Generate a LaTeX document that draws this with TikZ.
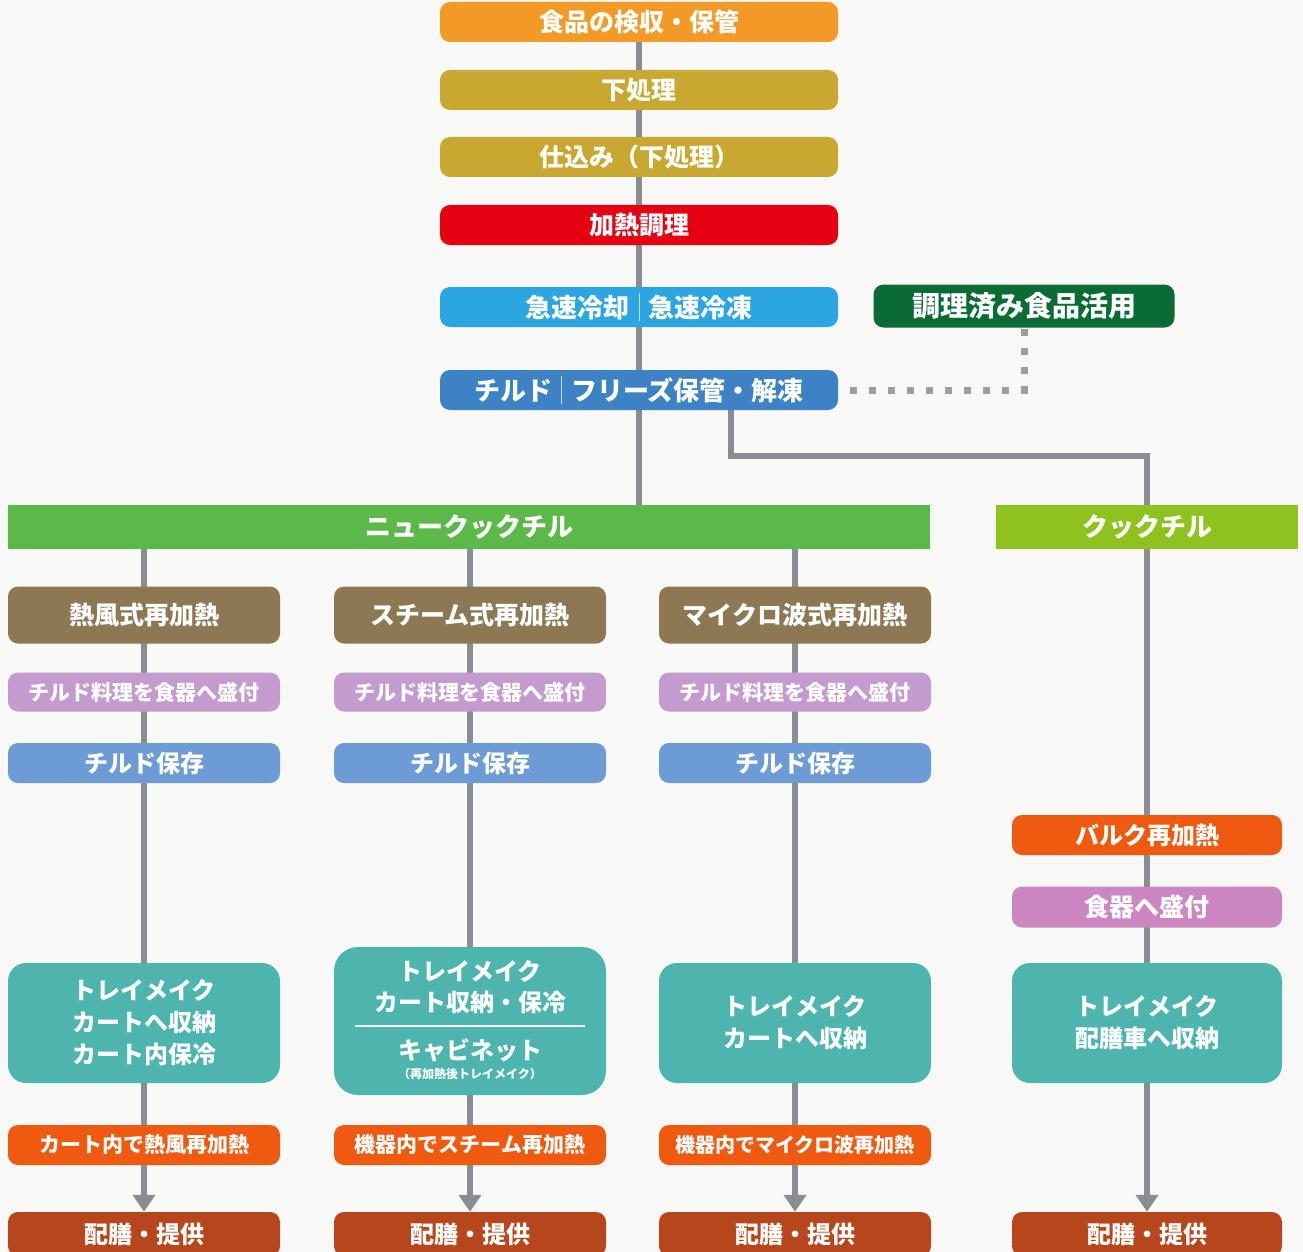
\documentclass[tikz,border=0pt]{standalone}
\usepackage{fontspec}
\setmainfont{Noto Sans CJK JP}
\usetikzlibrary{backgrounds,calc,arrows.meta}
\definecolor{cBg}{HTML}{F8F8F7}
\definecolor{cLine}{HTML}{8A8C94}
\definecolor{cDot}{HTML}{9C9DA2}
\definecolor{cOrange}{HTML}{F39A26}
\definecolor{cOlive}{HTML}{C8A830}
\definecolor{cRed}{HTML}{E50012}
\definecolor{cSky}{HTML}{2CA6E0}
\definecolor{cDkGreen}{HTML}{0B6B35}
\definecolor{cBlue}{HTML}{3C82C4}
\definecolor{cGreen}{HTML}{5DB84A}
\definecolor{cYG}{HTML}{8DC21F}
\definecolor{cBrown}{HTML}{8C7853}
\definecolor{cLav}{HTML}{C49BCF}
\definecolor{cStore}{HTML}{6C9BD6}
\definecolor{cTeal}{HTML}{4EB4AE}
\definecolor{cOrRed}{HTML}{EF5A10}
\definecolor{cPink}{HTML}{CC86C2}
\definecolor{cServe}{HTML}{B7461C}
\newcommand{\mysep}[1]{\hspace{0.35em}{\color{white!70!#1}\rule[-0.12em]{0.9pt}{1.05em}}\hspace{0.35em}}
\newcommand{\fs}[1]{\bfseries\fontsize{#1}{#1}\selectfont}
\begin{document}
\begin{tikzpicture}[x=1pt,y=-1pt,
  stepbox/.style={rounded corners=10pt, text=white, inner sep=0pt, align=center, font=\fs{24}},
  widebox/.style={stepbox, minimum width=398pt, minimum height=40pt, font=\fs{25}},
  colbox/.style={stepbox, minimum width=272pt, minimum height=40pt},
  barbox/.style={text=white, inner sep=0pt, minimum height=44pt, font=\fs{26}},
  teal/.style={colbox, fill=cTeal, rounded corners=18pt, minimum height=120pt, font=\bfseries\fontsize{24}{32}\selectfont},
  flow/.style={draw=cLine, line width=6pt},
  arr/.style={flow, -{Triangle[width=22pt,length=17pt]}},
  dots/.style={draw=cDot, line width=7pt, dash pattern=on 7pt off 12pt}
]
\clip (0,0) rectangle (1303,1252);
\useasboundingbox (0,0) rectangle (1303,1252);

% main column
\node[widebox, fill=cOrange] (recv) at (639,22) {食品の検収・保管};
\node[widebox, fill=cOlive] (prep) at (639,90) {下処理};
\node[widebox, fill=cOlive] (prep2) at (639,157) {仕込み（下処理）};
\node[widebox, fill=cRed] (cook) at (639,225) {加熱調理};
\node[widebox, fill=cSky, font=\fs{26}] (chill) at (639,307) {急速冷却\mysep{cSky}急速冷凍};
\node[stepbox, fill=cDkGreen, minimum width=301pt, minimum height=43pt, font=\fs{28}] (use) at (1024,306) {調理済み食品活用};
\node[widebox, fill=cBlue, font=\fs{26}] (store) at (639,390) {チルド\mysep{cBlue}フリーズ保管・解凍};

% bars
\node[barbox, fill=cGreen, minimum width=922pt] (nc) at (469,527) {ニュークックチル};
\node[barbox, fill=cYG, minimum width=302pt] (cc) at (1147,527) {クックチル};

% column 1
\node[colbox, fill=cBrown, minimum height=57pt, font=\fs{25}] (heat1) at (144,615) {熱風式再加熱};
\node[colbox, fill=cLav, minimum height=39pt, font=\fs{21}] (plate1) at (144,692) {チルド料理を食器へ盛付};
\node[colbox, fill=cStore, font=\fs{24}] (keep1) at (144,763) {チルド保存};
\node[teal] (tray1) at (144,1023) {トレイメイク\\カートへ収納\\カート内保冷};
\node[colbox, fill=cOrRed, font=\fs{21}] (re1) at (144,1145) {カート内で熱風再加熱};
\node[colbox, fill=cServe, minimum height=44pt] (serve1) at (144,1234) {配膳・提供};

% column 2
\node[colbox, fill=cBrown, minimum height=57pt, font=\fs{25}] (heat2) at (470,615) {スチーム式再加熱};
\node[colbox, fill=cLav, minimum height=39pt, font=\fs{21}] (plate2) at (470,692) {チルド料理を食器へ盛付};
\node[colbox, fill=cStore, font=\fs{24}] (keep2) at (470,763) {チルド保存};
\node[teal, minimum height=148pt, rounded corners=24pt] (tray2) at (470,1021) {};
\node[text=white, inner sep=0pt, align=center, font=\bfseries\fontsize{24}{31}\selectfont] (tray2a) at (470,987) {トレイメイク\\カート収納・保冷};
\node[text=white, inner sep=0pt, font=\fs{24}] (tray2b) at (470,1050) {キャビネット};
\node[text=white, inner sep=0pt, font=\fs{12}] (tray2c) at (470,1074) {（再加熱後トレイメイク）};
\node[colbox, fill=cOrRed, font=\fs{21}] (re2) at (470,1145) {機器内でスチーム再加熱};
\node[colbox, fill=cServe, minimum height=44pt] (serve2) at (470,1234) {配膳・提供};

% column 3
\node[colbox, fill=cBrown, minimum height=57pt, font=\fs{25}] (heat3) at (795,615) {マイクロ波式再加熱};
\node[colbox, fill=cLav, minimum height=39pt, font=\fs{21}] (plate3) at (795,692) {チルド料理を食器へ盛付};
\node[colbox, fill=cStore, font=\fs{24}] (keep3) at (795,763) {チルド保存};
\node[teal] (tray3) at (795,1023) {トレイメイク\\カートへ収納};
\node[colbox, fill=cOrRed, font=\fs{20}] (re3) at (795,1145) {機器内でマイクロ波再加熱};
\node[colbox, fill=cServe, minimum height=44pt] (serve3) at (795,1234) {配膳・提供};

% column 4 (cook chill)
\node[colbox, fill=cOrRed, minimum width=270pt, font=\fs{24}] (bulk) at (1147,835) {バルク再加熱};
\node[colbox, fill=cPink, minimum width=270pt, minimum height=41pt, font=\fs{25}] (plate4) at (1147,907) {食器へ盛付};
\node[teal, minimum width=270pt] (tray4) at (1147,1023) {トレイメイク\\配膳車へ収納};
\node[colbox, fill=cServe, minimum width=270pt, minimum height=44pt] (serve4) at (1147,1234) {配膳・提供};

% separator in cabinet box
\coordinate (sepL) at ($(tray2.west)+(21,5)$);
\coordinate (sepR) at ($(tray2.east)+(-21,5)$);
\draw[white, line width=1.6pt] (sepL) -- (sepR);

\begin{scope}[on background layer]
  \fill[cBg] (0,0) rectangle (1303,1252);
  \draw[flow] (recv.center) -- (recv.center |- nc.north);
  \coordinate (brA) at ($(store.south)+(92,0)$);
  \draw[flow] (brA) -- ++(0,46) -| (cc.north);
  \coordinate (dotA) at ($(store.east)+(12,0)$);
  \draw[dots] (dotA) -| (use.south);
  \draw[arr] (heat1.center |- nc.center) -- (serve1.north);
  \draw[arr] (heat2.center |- nc.center) -- (serve2.north);
  \draw[arr] (heat3.center |- nc.center) -- (serve3.north);
  \draw[arr] (cc.center) -- (serve4.north);
\end{scope}
\end{tikzpicture}
\end{document}
